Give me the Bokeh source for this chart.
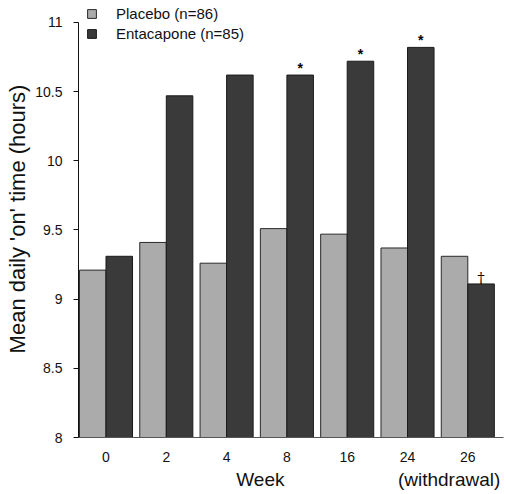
import numpy as np
from bokeh.plotting import figure
from bokeh.models import Range1d, FixedTicker, Legend, LegendItem, LinearAxis, ColumnDataSource
from bokeh.transform import dodge
from bokeh.core.properties import value
from bokeh.embed import file_html
from bokeh.resources import INLINE

# ---- data ----
weeks = ["0", "2", "4", "8", "16", "24", "26"]
placebo = [9.21, 9.41, 9.26, 9.51, 9.47, 9.37, 9.31]
entacapone = [9.31, 10.47, 10.62, 10.62, 10.72, 10.82, 9.11]
star_marks = ["", "", "", "*", "*", "*", ""]
dagger_marks = ["", "", "", "", "", "", "\u2020"]
series_names = ["Placebo (n=86)", "Entacapone (n=85)"]
y_ticks = [8, 8.5, 9, 9.5, 10, 10.5, 11]
y_tick_labels = ["8", "8.5", "9", "9.5", "10", "10.5", "11"]
x_title = "Week"
week_note = "(withdrawal)"

# ---- layout constants ----
FONT = "Liberation Sans"
TITLE_POS = 2.56      # horizontal position of the "Week" title (x-axis units)
NOTE_POS = 5.69       # horizontal position of "(withdrawal)" (x-axis units)

idx = np.arange(len(weeks))
bar_w = 0.44
off = bar_w / 2

p = figure(width=508, height=494, output_backend="svg", toolbar_location=None,
           x_range=Range1d(-0.456, 6.592), y_range=Range1d(y_ticks[0], 11.159),
           min_border_left=78, min_border_right=5, min_border_top=0, min_border_bottom=57,
           background_fill_color="white", border_fill_color="white")
p.outline_line_color = None
p.grid.visible = False

src = ColumnDataSource(dict(x=idx, placebo=placebo, ent=entacapone,
                            stars=star_marks, daggers=dagger_marks))

r1 = p.vbar(x=dodge("x", -off), top="placebo", bottom=y_ticks[0], width=bar_w, source=src,
            fill_color="#ababab", line_color="#2a2a2a", line_width=1)
r2 = p.vbar(x=dodge("x", off), top="ent", bottom=y_ticks[0], width=bar_w, source=src,
            fill_color="#3a3a3a", line_color="#1a1a1a", line_width=1)

p.text(x=dodge("x", off), y="ent", text="stars", source=src,
       text_font=value(FONT), text_font_size="14px", text_font_style="bold",
       text_align="center", text_baseline="alphabetic", text_color="black", y_offset=-7)
p.text(x=dodge("x", off), y="ent", text="daggers", source=src,
       text_font=value("DejaVu Serif"), text_font_size="15px",
       text_align="center", text_baseline="alphabetic", text_color="#000000", y_offset=-6)

# y axis
yax = p.yaxis[0]
yax.ticker = FixedTicker(ticks=y_ticks)
yax.major_label_overrides = {t: l for t, l in zip(y_ticks, y_tick_labels)}
yax.bounds = (y_ticks[0], y_ticks[-1])
yax.minor_tick_line_color = None
yax.major_tick_out = 5
yax.major_tick_in = 0
yax.major_label_standoff = 11
yax.major_label_text_font = FONT
yax.major_label_text_font_size = "14px"
yax.major_label_text_color = "#111111"
yax.axis_line_color = "#111111"
yax.major_tick_line_color = "#111111"
yax.axis_label = "Mean daily 'on' time (hours)"
yax.axis_label_text_font = FONT
yax.axis_label_text_font_size = "22px"
yax.axis_label_text_font_style = "normal"
yax.axis_label_text_color = "#111111"
yax.axis_label_standoff = 2

# x axis (week numbers)
xax = p.xaxis[0]
xax.ticker = FixedTicker(ticks=list(idx))
xax.major_label_overrides = {int(i): w for i, w in zip(idx, weeks)}
xax.major_tick_line_color = None
xax.minor_tick_line_color = None
xax.major_tick_out = 0
xax.major_label_standoff = 14
xax.major_label_text_font = FONT
xax.major_label_text_font_size = "14px"
xax.major_label_text_color = "#111111"
xax.axis_line_color = "#555555"

# second row under the week numbers: axis title "Week" and the "(withdrawal)" note
xax2 = LinearAxis(ticker=FixedTicker(ticks=[TITLE_POS, NOTE_POS]),
                  major_label_overrides={TITLE_POS: x_title, NOTE_POS: week_note},
                  axis_line_color=None, major_tick_line_color=None, minor_tick_line_color=None,
                  major_tick_out=0, major_tick_in=0, major_label_standoff=4,
                  major_label_text_font=FONT, major_label_text_font_size="19px",
                  major_label_text_color="#111111")
p.add_layout(xax2, "below")

legend = Legend(items=[LegendItem(label=series_names[0], renderers=[r1]),
                       LegendItem(label=series_names[1], renderers=[r2])],
                location=(8, 395), orientation="vertical",
                glyph_width=11, glyph_height=11, label_standoff=19, spacing=3,
                padding=0, margin=0, border_line_color=None, background_fill_alpha=0,
                label_text_font=FONT, label_text_font_size="15px", label_text_color="#111111")
p.add_layout(legend)

open("out.html", "w").write(file_html(p, INLINE))
